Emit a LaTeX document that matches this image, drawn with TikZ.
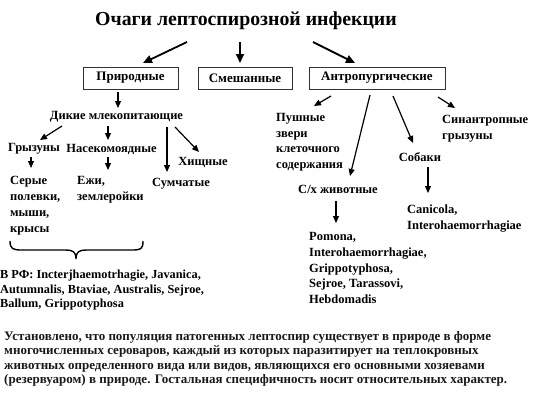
\documentclass[tikz,border=0pt]{standalone}
\usepackage{fontspec}
\setmainfont{Liberation Serif}
\usetikzlibrary{arrows.meta}
\begin{document}
\begin{tikzpicture}[x=1pt,y=-1pt,
  lbl/.style={inner sep=0pt,font=\bfseries\fontsize{12.5}{15.7}\selectfont},
  mlbl/.style={lbl,align=left,anchor=north west},
  boxn/.style={draw=black!80,line width=0.8pt,minimum height=22pt,inner sep=0pt,font=\bfseries\fontsize{13}{14}\selectfont},
  arr/.style={line width=1.2pt,-{Triangle[length=7pt,width=6pt]}},
  tarr/.style={line width=1.8pt,-{Triangle[length=9pt,width=8pt]}}]
\useasboundingbox[fill=white] (0,0) rectangle (538,400);

\node[inner sep=0pt,font=\bfseries\fontsize{19.8}{22}\selectfont] (title) at (246,21) {Очаги лептоспирозной инфекции};

\node[boxn,minimum width=95pt] (prirod) at (130.5,78) {Природные};
\node[boxn,minimum width=94pt] (smesh) at (245,78) {Смешанные};
\node[boxn,minimum width=136pt] (antrop) at (377,78) {Антропургические};

\node[lbl] (dikie) at (116.5,117) {Дикие млекопитающие};
\node[lbl] (gryz) at (34,149) {Грызуны};
\node[lbl] (nasek) at (111.5,149) {Насекомоядные};
\node[lbl] (hish) at (203,162) {Хищные};
\node[lbl] (sumch) at (181,184) {Сумчатые};
\node[mlbl] (serye) at (10,176.5) {Серые\\полевки,\\мыши,\\крысы};
\node[mlbl] (ezhi) at (77,176.5) {Ежи,\\землеройки};
\node[mlbl,font=\bfseries\fontsize{12.3}{14.5}\selectfont] (vrf) at (0,270) {В РФ: Incterjhaemotrhagie, Javanica,\\Autumnalis, Btaviae, Australis, Sejroe,\\Ballum, Grippotyphosa};

\node[mlbl] (pushn) at (276,113) {Пушные\\звери\\клеточного\\содержания};
\node[mlbl] (sinan) at (442,115.5) {Синантропные\\грызуны};
\node[lbl] (sobaki) at (420,157) {Собаки};
\node[mlbl] (canic) at (407,204.5) {Canicola,\\Interohaemorrhagiae};
\node[lbl] (sx) at (338,189) {С/х животные};
\node[mlbl] (pomona) at (309,232.5) {Pomona,\\Interohaemorrhagiae,\\Grippotyphosa,\\Sejroe, Tarassovi,\\Hebdomadis};

\node[mlbl,font=\bfseries\fontsize{13}{14.5}\selectfont,text=black!90] (para) at (4,331) {Установлено, что популяция патогенных лептоспир существует в природе в форме\\многочисленных сероваров, каждый из которых паразитирует на теплокровных\\животных определенного вида или видов, являющихся его основными хозяевами\\(резервуаром) в природе. Гостальная специфичность носит относительных характер.};

% arrows from title
\draw[tarr] ([shift={(-59,21)}]title.center) -- ([shift={(12.5,-15)}]prirod.center);
\draw[tarr] ([shift={(-6,21)}]title.center) -- ([shift={(-5,-15)}]smesh.center);
\draw[tarr] ([shift={(67,21)}]title.center) -- ([shift={(-22,-15)}]antrop.center);

% natural branch
\draw[arr] ([shift={(-12.5,14)}]prirod.center) -- ([shift={(1.5,-9)}]dikie.center);
\draw[arr] ([shift={(-54.5,9)}]dikie.center) -- ([shift={(6,-9)}]gryz.center);
\draw[arr] ([shift={(-8.5,9)}]dikie.center) -- ([shift={(-3.5,-9)}]nasek.center);
\draw[arr] ([shift={(50.5,10)}]dikie.center) -- ([shift={(-14,-12)}]sumch.center);
\draw[arr] ([shift={(58.5,10)}]dikie.center) -- ([shift={(-4,-10)}]hish.center);
\draw[arr] ([shift={(-3,8)}]gryz.center) -- ([shift={(21,-8.5)}]serye.north west);
\draw[arr] ([shift={(-3.5,8)}]nasek.center) -- ([shift={(31,-6.5)}]ezhi.north west);

% brace
\draw[line width=1.4pt] (10,241) .. controls (10,249) and (13,250) .. (22,250) -- (66,250)
  .. controls (73,250) and (76,252) .. (76,259) .. controls (76,252) and (79,250) .. (86,250)
  -- (132,250) .. controls (141,250) and (143,249) .. (143,241);

% anthropurgic branch
\draw[arr] ([shift={(-46,18)}]antrop.center) -- ([shift={(38,-7)}]pushn.north west);
\draw[arr] ([shift={(-7,17)}]antrop.center) -- ([shift={(12,-13)}]sx.center);
\draw[arr] ([shift={(16,18)}]antrop.center) -- ([shift={(-7,-14)}]sobaki.center);
\draw[arr] ([shift={(61,19)}]antrop.center) -- ([shift={(13,-7.5)}]sinan.north west);
\draw[arr] ([shift={(8,10)}]sobaki.center) -- ([shift={(21,-11.5)}]canic.north west);
\draw[arr] ([shift={(-2,12)}]sx.center) -- ([shift={(27,-9.5)}]pomona.north west);
\end{tikzpicture}
\end{document}
